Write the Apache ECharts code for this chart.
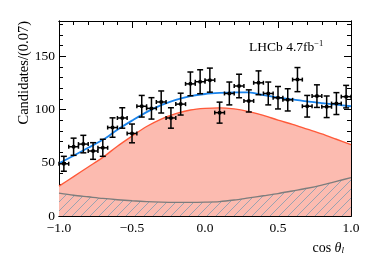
<!DOCTYPE html>
<html><head><meta charset="utf-8">
<script src="https://cdn.jsdelivr.net/npm/echarts@6/dist/echarts.min.js"></script>
<style>html,body{margin:0;padding:0;background:#fff}#c{width:374px;height:264px}</style>
</head><body><div id="c"></div>
<script>
// ---- data ----
const nBins = 30;
const counts = [49, 65, 67.5, 61, 64, 83, 92, 77.5, 103, 101, 107, 92, 105, 124, 126, 127.5,
                97, 115, 122, 108, 125, 115, 111, 109, 128, 103, 112.5, 102.5, 105.5, 112];
const curveX = [-1.0, -0.9, -0.8, -0.7, -0.6, -0.5, -0.4, -0.3, -0.2, -0.1, 0.0,
                0.1, 0.2, 0.3, 0.4, 0.5, 0.6, 0.7, 0.8, 0.9, 1.0];
const signal = [28, 37, 46, 55, 65.5, 75, 84, 91, 96, 99.5, 101,
                101.5, 100.5, 98, 94.5, 90, 86, 81.5, 77, 72, 67];
const background = [21.5, 19.5, 18, 16.5, 15.3, 14.3, 13.5, 13, 12.8, 12.8, 13,
                    13.5, 15, 17, 19, 21, 23.5, 26, 29, 32.5, 36];
const total = [49.5, 56.5, 64, 71.5, 81, 89.5, 97.5, 104, 109, 112.5, 114.5,
               115.5, 116, 116, 113.5, 111, 109.5, 107.5, 106, 104.5, 103];
const xTicks = [-1.0, -0.5, 0.0, 0.5, 1.0];
const yTicks = [0, 50, 100, 150];

// ---- build ----
const binW = 2 / nBins;
const points = counts.map((c, i) => [-1 + (i + 0.5) * binW, c, Math.sqrt(c)]);
const zip = (xs, ys) => xs.map((x, i) => [x, ys[i]]);

const hatch = document.createElement('canvas');
hatch.width = 9; hatch.height = 9;
(function () {
  const g = hatch.getContext('2d');
  g.strokeStyle = '#8f9fb0'; g.lineWidth = 0.9;
  g.beginPath();
  g.moveTo(-1, 10); g.lineTo(10, -1);
  g.moveTo(-1, 1); g.lineTo(1, -1);
  g.moveTo(8, 10); g.lineTo(10, 8);
  g.stroke();
})();

const FONT = 'Liberation Serif';
const chart = echarts.init(document.getElementById('c'), null, {renderer: 'canvas'});
const fmtX = v => xTicks.some(t => Math.abs(t - v) < 1e-9) ? v.toFixed(1).replace('-', '\u2212') : '';
const fmtY = v => yTicks.indexOf(v) >= 0 ? String(v) : '';

function xAx(pos, major, labels) {
  return {
    type: 'value', min: -1, max: 1, interval: major ? 0.5 : 0.1, position: pos,
    axisLine: {show: true, onZero: false, lineStyle: {color: '#000', width: 1}},
    axisTick: {show: true, inside: true, length: major ? 7 : 4, lineStyle: {color: '#000', width: 1}},
    axisLabel: {show: labels, formatter: fmtX, color: '#000', fontFamily: FONT, fontSize: 13.5, margin: 5},
    splitLine: {show: false}
  };
}
function yAx(pos, major, labels) {
  return {
    type: 'value', min: 0, max: 183, interval: major ? 50 : 10, position: pos,
    axisLine: {show: true, onZero: false, lineStyle: {color: '#000', width: 1}},
    axisTick: {show: true, inside: true, length: major ? 7 : 4, lineStyle: {color: '#000', width: 1}},
    axisLabel: {show: labels, formatter: fmtY, color: '#000', fontFamily: FONT, fontSize: 13.5, margin: 4, showMaxLabel: false},
    splitLine: {show: false}
  };
}

chart.setOption({
  animation: false,
  grid: {left: 59, right: 23, top: 21, bottom: 48},
  xAxis: [xAx('bottom', true, true), xAx('bottom', false, false), xAx('top', true, false), xAx('top', false, false)],
  yAxis: [yAx('left', true, true), yAx('left', false, false), yAx('right', true, false), yAx('right', false, false)],
  series: [
    {type: 'line', data: zip(curveX, signal), smooth: 0.3, symbol: 'none',
     lineStyle: {color: '#ff5a3a', width: 1.4}, areaStyle: {color: '#fcbbb0', opacity: 1}, z: 1},
    {type: 'line', data: zip(curveX, background), smooth: 0.3, symbol: 'none',
     lineStyle: {color: '#7d7d7d', width: 1.4}, areaStyle: {color: {image: hatch, repeat: 'repeat'}, opacity: 1}, z: 2},
    {type: 'line', data: zip(curveX, total), smooth: 0.3, symbol: 'none',
     lineStyle: {color: '#1a84ec', width: 1.8}, z: 3},
    {type: 'custom', data: points, z: 5,
     renderItem: function (params, api) {
       const x = api.value(0), y = api.value(1), e = api.value(2);
       const c = api.coord([x, y]);
       const t = api.coord([x, y + e]);
       const b = api.coord([x, y - e]);
       const l = api.coord([x - binW / 2, y]);
       const r = api.coord([x + binW / 2, y]);
       const st = {stroke: '#000', lineWidth: 1.5};
       return {type: 'group', children: [
         {type: 'line', shape: {x1: c[0], y1: t[1], x2: c[0], y2: b[1]}, style: st},
         {type: 'line', shape: {x1: c[0] - 3, y1: t[1], x2: c[0] + 3, y2: t[1]}, style: st},
         {type: 'line', shape: {x1: c[0] - 3, y1: b[1], x2: c[0] + 3, y2: b[1]}, style: st},
         {type: 'line', shape: {x1: l[0], y1: c[1], x2: r[0], y2: c[1]}, style: st},
         {type: 'line', shape: {x1: l[0], y1: c[1] - 2, x2: l[0], y2: c[1] + 2}, style: st},
         {type: 'line', shape: {x1: r[0], y1: c[1] - 2, x2: r[0], y2: c[1] + 2}, style: st},
         {type: 'circle', shape: {cx: c[0], cy: c[1], r: 2}, style: {fill: '#000'}}
       ]};
     }}
  ],
  graphic: [
    {type: 'text', x: 24, y: 21, rotation: Math.PI / 2,
     style: {text: 'Candidates/(0.07)', font: '14.5px "Liberation Serif"', fill: '#000', textAlign: 'right', textVerticalAlign: 'middle'}},
    {type: 'text', x: 344, y: 248,
     style: {text: 'cos {i|θ}{s|l}', fill: '#000', textAlign: 'right', textVerticalAlign: 'middle', fontFamily: FONT, fontSize: 14,
       rich: {i: {fontFamily: FONT, fontSize: 14, fontStyle: 'italic'}, s: {fontFamily: FONT, fontSize: 9, fontStyle: 'italic', verticalAlign: 'bottom', padding: [6, 0, 0, 0]}}}},
    {type: 'text', x: 249, y: 47,
     style: {text: 'LHCb 4.7fb{s|−1}', fill: '#000', textAlign: 'left', textVerticalAlign: 'middle', fontFamily: FONT, fontSize: 13.5,
       rich: {s: {fontFamily: FONT, fontSize: 8.5, verticalAlign: 'top', padding: [0, 0, 7, 0]}}}}
  ]
});
</script></body></html>
